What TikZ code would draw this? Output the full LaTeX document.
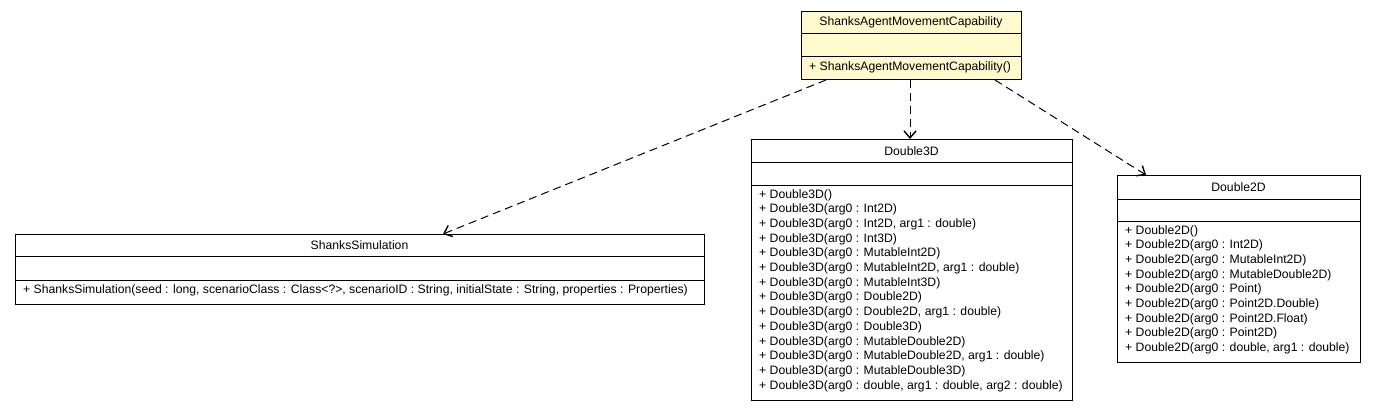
\documentclass[tikz,border=0pt]{standalone}
\usepackage{fontspec}
\setmainfont{Liberation Sans}
\usetikzlibrary{arrows.meta,calc}
\definecolor{clsyellow}{RGB}{255,250,205}
\tikzset{
  cls/.style={draw=black, line width=1pt, rectangle, inner sep=0pt, anchor=north west},
  ttl/.style={font=\fontsize{12.2}{14}\selectfont, inner sep=0pt, anchor=center},
  mth/.style={font=\fontsize{12.2}{14.7}\selectfont, inner sep=0pt, anchor=north west, align=left},
  sep/.style={line width=1pt},
  dep/.style={line width=1pt, dash pattern=on 8pt off 5pt, -{Straight Barb[length=7pt,width=12pt,line width=1.4pt]}}
}
\begin{document}
\begin{tikzpicture}[x=1pt,y=-1pt]
\useasboundingbox (0,0) rectangle (1376,411);
% ShanksAgentMovementCapability
\node[cls, fill=clsyellow, minimum width=220pt, minimum height=68pt] (samc) at (801,11) {};
\node[ttl] (samct) at (911,22.5) {ShanksAgentMovementCapability};
\draw[sep] (801,34) -- (1021,34) (801,57) -- (1021,57);
\node[mth] (samcm) at (809,61) {+ ShanksAgentMovementCapability()};
% Double3D
\node[cls, minimum width=321pt, minimum height=261pt] (d3) at (751,139) {};
\node[ttl] (d3t) at (911.5,151) {Double3D};
\draw[sep] (751,163) -- (1072,163) (751,186) -- (1072,186);
\node[mth] (d3m) at (759,189) {+ Double3D()\\
+ Double3D(arg0 : Int2D)\\
+ Double3D(arg0 : Int2D, arg1 : double)\\
+ Double3D(arg0 : Int3D)\\
+ Double3D(arg0 : MutableInt2D)\\
+ Double3D(arg0 : MutableInt2D, arg1 : double)\\
+ Double3D(arg0 : MutableInt3D)\\
+ Double3D(arg0 : Double2D)\\
+ Double3D(arg0 : Double2D, arg1 : double)\\
+ Double3D(arg0 : Double3D)\\
+ Double3D(arg0 : MutableDouble2D)\\
+ Double3D(arg0 : MutableDouble2D, arg1 : double)\\
+ Double3D(arg0 : MutableDouble3D)\\
+ Double3D(arg0 : double, arg1 : double, arg2 : double)};
% ShanksSimulation
\node[cls, minimum width=689pt, minimum height=70pt] (ss) at (15,234) {};
\node[ttl] (sst) at (359.5,245.5) {ShanksSimulation};
\draw[sep] (15,257) -- (704,257) (15,281) -- (704,281);
\node[mth] (ssm) at (23,284) {+ ShanksSimulation(seed : long, scenarioClass : Class<?>, scenarioID : String, initialState : String, properties : Properties)};
% Double2D
\node[cls, minimum width=243pt, minimum height=187pt] (d2) at (1117,175) {};
\node[ttl] (d2t) at (1238.5,187.5) {Double2D};
\draw[sep] (1117,200) -- (1360,200) (1117,222) -- (1360,222);
\node[mth] (d2m) at (1125,225) {+ Double2D()\\
+ Double2D(arg0 : Int2D)\\
+ Double2D(arg0 : MutableInt2D)\\
+ Double2D(arg0 : MutableDouble2D)\\
+ Double2D(arg0 : Point)\\
+ Double2D(arg0 : Point2D.Double)\\
+ Double2D(arg0 : Point2D.Float)\\
+ Double2D(arg0 : Point2D)\\
+ Double2D(arg0 : double, arg1 : double)};
% connectors
\coordinate (s1) at ($(samc.south west)+(25,0)$);
\coordinate (s2) at ($(samc.south west)+(109,0)$);
\coordinate (s3) at ($(samc.south west)+(194,0)$);
\coordinate (e1) at ($(ss.north west)+(428,0)$);
\coordinate (e2) at ($(d3.north west)+(159,0)$);
\coordinate (e3) at ($(d2.north west)+(29,0)$);
\draw[dep] (s1) -- (e1);
\draw[dep] (s2) -- (e2);
\draw[dep] (s3) -- (e3);
\end{tikzpicture}
\end{document}
